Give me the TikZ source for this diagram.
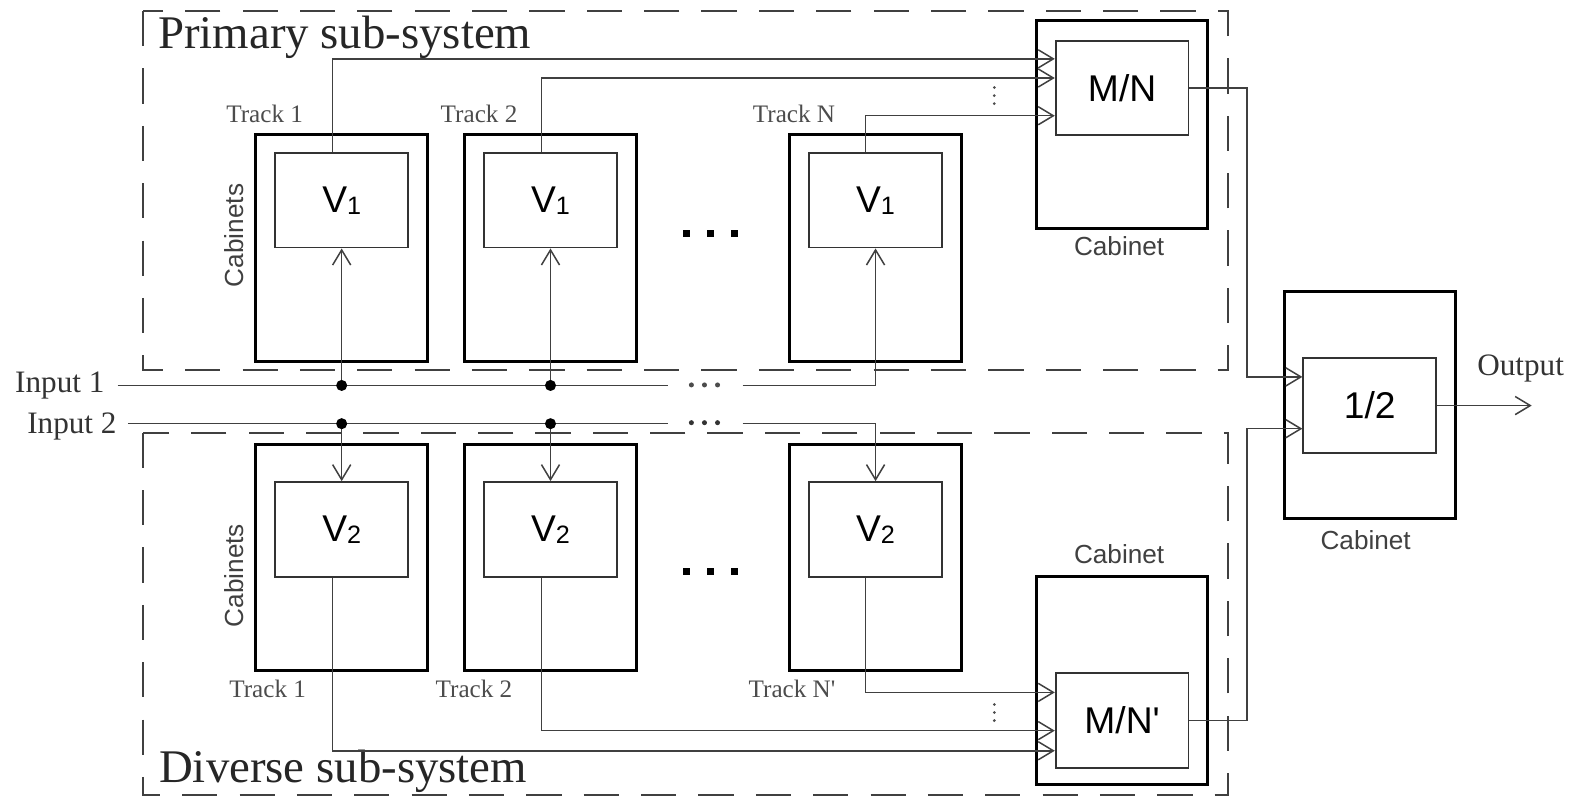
\documentclass[tikz,border=0pt]{standalone}
\usepackage{fontspec}
\setmainfont{Liberation Serif}
\setsansfont{Liberation Sans}
\usetikzlibrary{arrows.meta,positioning}

\begin{document}
\begin{tikzpicture}[x=1pt,y=-1pt]
    \tikzset{cabinet/.style = {draw=black,line width=3pt,minimum width=171pt,minimum height=225pt,inner sep=0pt},
      unit/.style = {draw=black!80,line width=1.8pt,minimum width=132pt,minimum height=94pt,inner sep=0pt,font=\sffamily\fontsize{37}{40}\selectfont},
      sig/.style = {draw=black!75,line width=1.5pt},
      arr/.style = {sig,-{Straight Barb[length=15pt,width=18pt]}},
      zone/.style = {draw=black!75,line width=2pt,dash pattern=on 35pt off 22pt},
      title/.style = {font=\fontsize{46.5}{49}\selectfont,text=black!85,inner sep=0pt},
      iolbl/.style = {font=\fontsize{31}{33}\selectfont,text=black!80,inner sep=0pt},
      tracklbl/.style = {font=\fontsize{25}{27}\selectfont,text=black!70,inner sep=0pt},
      cablbl/.style = {font=\sffamily\fontsize{26}{28}\selectfont,text=black!75,inner sep=0pt},
      junction/.style = {fill=black}}
    \def\vlab#1#2{#1\raisebox{-2pt}{\fontsize{25}{25}\selectfont #2}}
    \useasboundingbox (0,0) rectangle (1568,791);
    % sub-system frames
    \draw[zone] (142,11) rectangle (1220,368);
    \draw[zone] (142,430) rectangle (1220,790);
    \node[title,anchor=west] (tp) at (157,37) {Primary sub-system};
    \node[title,anchor=west] (td) at (158,766) {Diverse sub-system};
    % primary tracks
    \node[cabinet] (ca1) at (339.5,246.5) {};
    \node[cabinet] (ca2) at (547,246.5) {};
    \node[cabinet] (ca3) at (870,246.5) {};
    \node[unit] (va1) at (339.5,199) {\vlab V1};
    \node[unit] (va2) at (547,199) {\vlab V1};
    \node[unit] (va3) at (870,199) {\vlab V1};
    \node[tracklbl] (ta1) at (263,113) {Track 1};
    \node[tracklbl] (ta2) at (476,113) {Track 2};
    \node[tracklbl] (ta3) at (789,113) {Track N};
    \node[cablbl,rotate=90] (la) at (233,234) {Cabinets};
    % diverse tracks
    \node[cabinet] (cb1) at (339.5,554) {};
    \node[cabinet] (cb2) at (547,554) {};
    \node[cabinet] (cb3) at (870,554) {};
    \node[unit] (vb1) at (339.5,526) {\vlab V2};
    \node[unit] (vb2) at (547,526) {\vlab V2};
    \node[unit] (vb3) at (870,526) {\vlab V2};
    \node[tracklbl] (tb1) at (266,685) {Track 1};
    \node[tracklbl] (tb2) at (471,685) {Track 2};
    \node[tracklbl] (tb3) at (787,685) {Track N\textquotesingle};
    \node[cablbl,rotate=90] (lb) at (233,572) {Cabinets};
    % voters
    \node[cabinet,minimum width=170pt,minimum height=207pt] (cm) at (1115,123.5) {};
    \node[unit] (mn) at (1115,87.5) {M/N};
    \node[cablbl] (lm) at (1112,245) {Cabinet};
    \node[cabinet,minimum width=170pt,minimum height=207pt] (cmp) at (1115,676.5) {};
    \node[unit] (mnp) at (1115,716) {M/N\textquotesingle};
    \node[cablbl] (lmp) at (1112,551) {Cabinet};
    \node[cabinet,minimum width=170pt] (ch) at (1361,402.5) {};
    \node[unit] (half) at (1361,403) {1/2};
    \node[cablbl] (lh) at (1357,537) {Cabinet};
    % inputs
    \coordinate (in1) at (117,383);
    \coordinate (in2) at (127,421);
    \node[iolbl,left=13pt of in1] (lin1) {Input 1};
    \node[iolbl,left=11pt of in2,yshift=-3pt] (lin2) {Input 2};
    \coordinate (g1a) at (664,383);
    \coordinate (g1b) at (738,383);
    \coordinate (g2a) at (664,421);
    \coordinate (g2b) at (738,421);
    \draw[sig] (in1) -- (g1a);
    \draw[arr] (g1b) -| (va3.south);
    \draw[sig] (in2) -- (g2a);
    \draw[arr] (g2b) -| (vb3.north);
    \draw[arr] (va1.south |- in1) -- (va1.south);
    \draw[arr] (va2.south |- in1) -- (va2.south);
    \draw[arr] (vb1.north |- in2) -- (vb1.north);
    \draw[arr] (vb2.north |- in2) -- (vb2.north);
    \fill[junction] (va1.south |- in1) circle (5.5);
    \fill[junction] (va2.south |- in1) circle (5.5);
    \fill[junction] (vb1.north |- in2) circle (5.5);
    \fill[junction] (vb2.north |- in2) circle (5.5);
    \foreach \dx in {0,13,26} {
      \fill[black!70] (687+\dx,382.5) circle (2.5);
      \fill[black!80] (687+\dx,420) circle (2.5);
    }
    % track outputs to the voters
    \draw[arr] ([xshift=-9pt]va1.north) |- ([yshift=29pt]mn.west);
    \draw[arr] ([xshift=-9pt]va2.north) |- ([yshift=10pt]mn.west);
    \draw[arr] ([xshift=-10pt]va3.north) |- ([yshift=-27.5pt]mn.west);
    \draw[arr] ([xshift=-9pt]vb1.south) |- ([yshift=-30pt]mnp.west);
    \draw[arr] ([xshift=-9pt]vb2.south) |- ([yshift=-10pt]mnp.west);
    \draw[arr] ([xshift=-10pt]vb3.south) |- ([yshift=28pt]mnp.west);
    \foreach \dy in {0,8,16} {
      \fill[black!70] (988,87+\dy) circle (1.5);
      \fill[black!70] (988,700+\dy) circle (1.5);
    }
    % more tracks
    \foreach \dx in {0,24,48} {
      \fill (682+\dx,232) +(-3.5,-3.5) rectangle +(3.5,3.5);
      \fill (682+\dx,568) +(-3.5,-3.5) rectangle +(3.5,3.5);
    }
    % 1 out of 2
    \draw[arr] (mn.east) -- ++(57,0) |- ([yshift=28.5pt]half.west);
    \draw[arr] (mnp.east) -- ++(57,0) |- ([yshift=-23pt]half.west);
    \coordinate (out) at (1522,403);
    \draw[arr] (half.east) -- (out);
    \node[iolbl] (lout) at (1511,366) {Output};
\end{tikzpicture}
\end{document}
